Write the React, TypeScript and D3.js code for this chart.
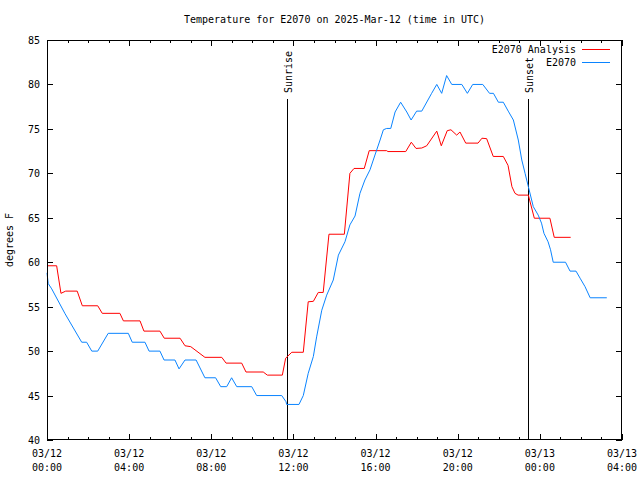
import React from "react";
import * as d3 from "d3";

const title = "Temperature for E2070 on 2025-Mar-12 (time in UTC)";
const yLabel = "degrees F";

// hours since 2025-03-12 00:00 UTC
const analysisHours = [0, 0.47, 0.68, 0.91, 1.47, 1.72, 2.47, 2.69, 3.55, 3.72, 4.53, 4.72, 5.5, 5.71, 6.48, 6.72, 7.0, 7.69, 8.51, 8.72, 9.48, 9.69, 10.53, 10.73, 11.46, 11.62, 11.92, 12.48, 12.72, 12.97, 13.21, 13.45, 13.73, 14.48, 14.75, 14.95, 15.45, 15.69, 16.54, 16.6, 17.47, 17.74, 17.97, 18.25, 18.49, 18.98, 19.2, 19.49, 19.67, 19.95, 20.11, 20.39, 20.99, 21.18, 21.41, 21.73, 22.22, 22.45, 22.64, 22.79, 22.94, 23.44, 23.73, 24.49, 24.7, 25.5];
const analysisTemps = [59.6, 59.6, 56.5, 56.75, 56.75, 55.1, 55.1, 54.25, 54.25, 53.4, 53.4, 52.25, 52.25, 51.45, 51.45, 50.6, 50.5, 49.3, 49.3, 48.65, 48.65, 47.65, 47.65, 47.3, 47.3, 49.2, 49.87, 49.87, 55.55, 55.6, 56.6, 56.6, 63.15, 63.15, 70.0, 70.55, 70.55, 72.55, 72.55, 72.45, 72.45, 73.5, 72.8, 72.85, 73.1, 74.75, 73.1, 74.8, 74.9, 74.3, 74.65, 73.4, 73.4, 73.95, 73.9, 71.9, 71.9, 70.9, 68.5, 67.75, 67.55, 67.55, 64.95, 64.95, 62.8, 62.8];

const obsHours = [0, 0.06, 0.23, 0.88, 1.69, 1.93, 2.18, 2.47, 2.98, 3.96, 4.15, 4.77, 4.97, 5.5, 5.7, 6.23, 6.43, 6.72, 7.26, 7.69, 8.21, 8.46, 8.75, 8.99, 9.24, 9.97, 10.21, 11.43, 11.64, 11.67, 12.27, 12.48, 12.72, 12.97, 13.13, 13.38, 13.62, 13.94, 14.19, 14.51, 14.75, 15.0, 15.24, 15.48, 15.73, 15.97, 16.22, 16.38, 16.54, 16.74, 16.95, 17.22, 17.52, 17.73, 18.0, 18.25, 18.73, 18.98, 19.22, 19.46, 19.71, 20.2, 20.47, 20.73, 21.22, 21.55, 21.74, 21.98, 22.22, 22.46, 22.71, 22.95, 23.12, 23.28, 23.44, 23.68, 23.92, 24.08, 24.2, 24.4, 24.52, 24.65, 25.25, 25.47, 25.76, 25.96, 26.2, 26.45, 27.26];
const obsTemps = [58.8, 57.6, 57.0, 54.2, 51.0, 51.0, 50.0, 50.0, 52.0, 52.0, 51.0, 51.0, 50.0, 50.0, 49.0, 49.0, 48.0, 49.0, 49.0, 47.0, 47.0, 46.0, 46.0, 47.0, 46.0, 46.0, 45.0, 45.0, 44.3, 44.0, 44.0, 45.0, 47.5, 49.4, 51.6, 54.6, 56.3, 58.0, 60.8, 62.3, 64.2, 65.2, 67.75, 69.25, 70.4, 72.06, 73.75, 74.9, 75.05, 75.05, 76.9, 78.0, 76.9, 76.0, 77.0, 77.0, 79.0, 80.0, 79.0, 81.0, 80.0, 80.0, 79.0, 80.0, 80.0, 79.0, 79.0, 78.0, 78.0, 77.0, 76.0, 73.75, 71.5, 70.0, 68.5, 66.25, 65.3, 64.4, 63.25, 62.3, 61.4, 60.0, 60.0, 59.0, 59.0, 58.2, 57.25, 56.0, 56.0];

const seriesNames = ["E2070 Analysis", "E2070"];
const seriesColors = ["#ff0000", "#0a84ff"];

const markerNames = ["Sunrise", "Sunset"];
const markerHours = [11.69, 23.44];

const xMajorTicks = [0, 4, 8, 12, 16, 20, 24, 28];
const xTickDates = ["03/12", "03/12", "03/12", "03/12", "03/12", "03/12", "03/13", "03/13"];
const xTickTimes = ["00:00", "04:00", "08:00", "12:00", "16:00", "20:00", "00:00", "04:00"];
const yTicks = [40, 45, 50, 55, 60, 65, 70, 75, 80, 85];

const W = 640, H = 480;
const L = 47, R = 622, T = 40, B = 440;
const font = "'DejaVu Sans Mono', monospace";

export default function App() {
  const x = d3.scaleLinear().domain([0, 28]).range([L, R]);
  const y = d3.scaleLinear().domain([40, 85]).range([B, T]);
  const minor = d3.range(0, 29, 1);
  const line = d3.line<[number, number]>().x(d => x(d[0])).y(d => y(d[1]));
  const aData = analysisHours.map((h, i) => [h, analysisTemps[i]] as [number, number]);
  const oData = obsHours.map((h, i) => [h, obsTemps[i]] as [number, number]);
  const cx = (L + R) / 2;

  return (
    <svg width={W} height={H} style={{ position: "absolute", left: 0, top: 0, background: "#fff" }} fontFamily={font} fontSize={10}>
      <rect x={0} y={0} width={W} height={H} fill="#fff" />
      <text x={cx} y={23} textAnchor="middle" fill="#000">{title}</text>
      <text transform={`translate(13,${(T + B) / 2}) rotate(-90)`} textAnchor="middle" fill="#000">{yLabel}</text>
      <g shapeRendering="crispEdges" stroke="#000" strokeWidth={1}>
        {minor.map(h => {
          const major = h % 4 === 0;
          const len = major ? 6 : 3;
          const px = Math.round(x(h)) + 0.5;
          return (
            <g key={h}>
              <line x1={px} x2={px} y1={B} y2={B - len} />
              <line x1={px} x2={px} y1={T} y2={T + len} />
            </g>
          );
        })}
        {yTicks.map(v => {
          const py = Math.round(y(v)) + 0.5;
          return (
            <g key={v}>
              <line x1={L} x2={L + 6} y1={py} y2={py} />
              <line x1={R} x2={R - 6} y1={py} y2={py} />
            </g>
          );
        })}
      </g>
      {yTicks.map(v => (
        <text key={v} x={40} y={y(v) + 4} textAnchor="end" fill="#000">{v}</text>
      ))}
      {xMajorTicks.map((h, i) => (
        <g key={h}>
          <text x={x(h)} y={457} textAnchor="middle" fill="#000">{xTickDates[i]}</text>
          <text x={x(h)} y={471} textAnchor="middle" fill="#000">{xTickTimes[i]}</text>
        </g>
      ))}
      {markerHours.map((h, i) => {
        const px = Math.round(x(h)) + 0.5;
        return (
          <g key={i}>
            <line x1={px} x2={px} y1={99} y2={B} stroke="#000" shapeRendering="crispEdges" />
            <text transform={`translate(${px + 4},93) rotate(-90)`} textAnchor="start" fill="#000">{markerNames[i]}</text>
          </g>
        );
      })}
      <path d={line(aData) || ""} fill="none" stroke={seriesColors[0]} strokeWidth={1} />
      <path d={line(oData) || ""} fill="none" stroke={seriesColors[1]} strokeWidth={1} />
      {seriesNames.map((n, i) => (
        <g key={n}>
          <text x={576} y={53 + i * 13} textAnchor="end" fill="#000">{n}</text>
          <line x1={582} x2={610} y1={49.5 + i * 13} y2={49.5 + i * 13} stroke={seriesColors[i]} shapeRendering="crispEdges" />
        </g>
      ))}
      <rect x={L + 0.5} y={T + 0.5} width={R - L - 1} height={B - T - 1} fill="none" stroke="#000" shapeRendering="crispEdges" />
    </svg>
  );
}
